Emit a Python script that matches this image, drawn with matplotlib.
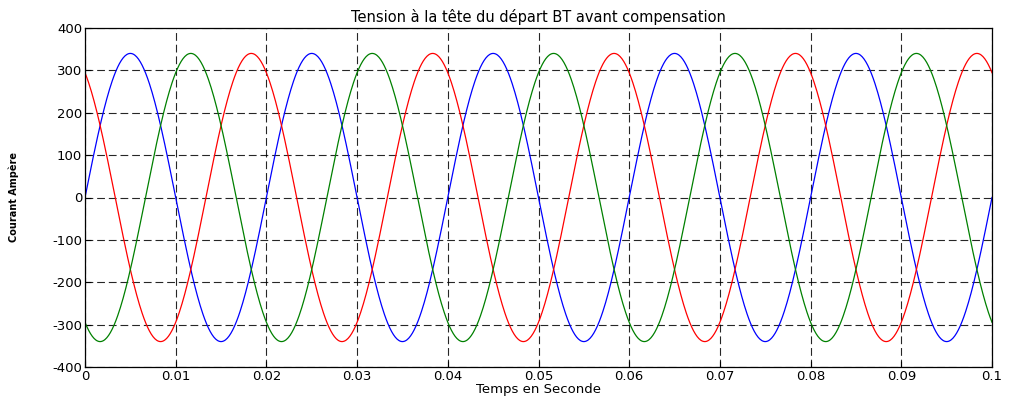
import numpy as np
import matplotlib.pyplot as plt

# values
amplitude = 340.0          # peak voltage (V)
frequency = 50.0           # Hz
phase_deg = [0.0, 120.0, -120.0]   # blue, red, green
colors = ["blue", "red", "green"]
t_end = 0.1
x_ticks = [0, 0.01, 0.02, 0.03, 0.04, 0.05, 0.06, 0.07, 0.08, 0.09, 0.1]
x_labels = ["0", "0.01", "0.02", "0.03", "0.04", "0.05", "0.06", "0.07", "0.08", "0.09", "0.1"]
y_ticks = [-400, -300, -200, -100, 0, 100, 200, 300, 400]

plt.rcParams['font.family'] = ['DejaVu Sans']
plt.rcParams['axes.unicode_minus'] = False

time = np.arange(0, t_end + 1e-4, 1e-4)

fig = plt.figure(figsize=(10.14, 3.96), dpi=100)
ax = fig.add_axes([85 / 1014, 1 - 367 / 396, (992 - 85) / 1014, (367 - 28) / 396])

for ph, c in zip(phase_deg, colors):
    v = amplitude * np.sin(2 * np.pi * frequency * time + np.deg2rad(ph))
    ax.plot(time, v, color=c, linewidth=0.9)

ax.set_xlim(0, t_end)
ax.set_ylim(-400, 400)
ax.set_xticks(x_ticks)
ax.set_xticklabels(x_labels)
ax.set_yticks(y_ticks)
ax.grid(True, color="black", linestyle=(0, (7, 3.5)), linewidth=0.8, alpha=0.85)
ax.tick_params(direction="in", labelsize=9.5, length=4, pad=2)
for s in ax.spines.values():
    s.set_linewidth(0.9)

ax.set_title("Tension à la tête du départ BT avant compensation", fontsize=10.5, pad=4)
ax.set_xlabel("Temps en Seconde", fontsize=9.5)
ax.xaxis.set_label_coords(0.5, -0.048, transform=ax.transAxes)
ax.xaxis.label.set_va("top")
ax.set_ylabel("Courant Ampère", fontsize=7, fontweight="bold")
ax.yaxis.set_label_coords(-0.073, 0.5)

fig.savefig("out.png", dpi=100)
